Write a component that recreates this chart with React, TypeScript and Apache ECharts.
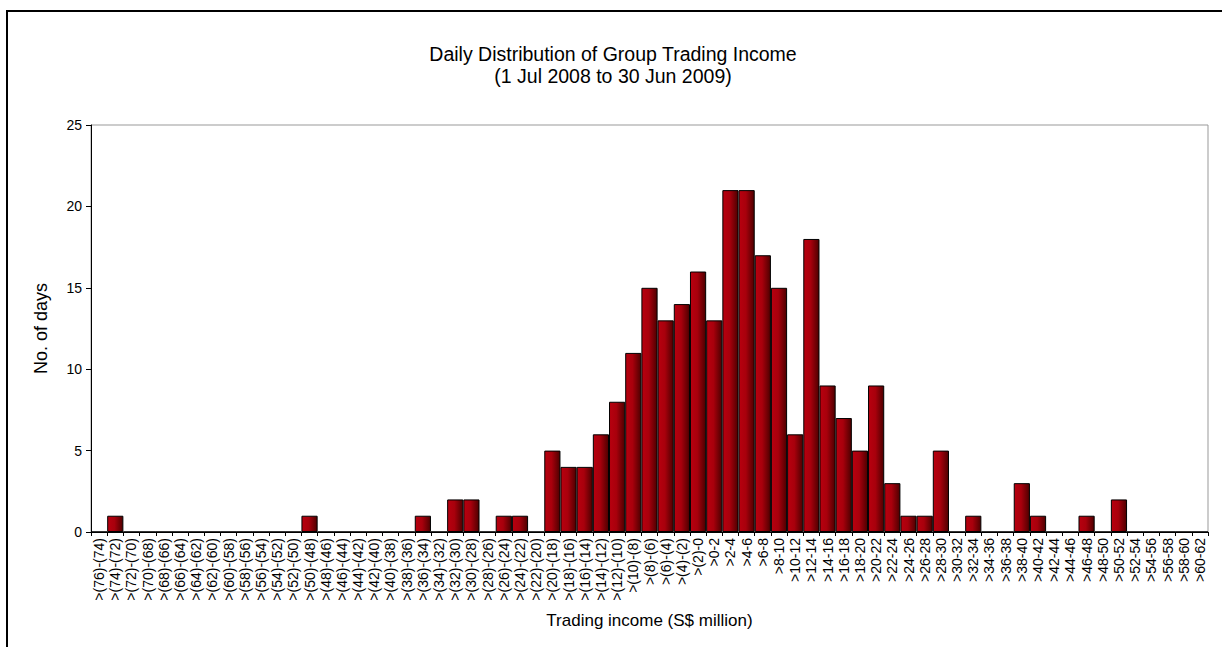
import React, { useEffect, useRef } from "react";
import * as echarts from "echarts";

const negativeBins: string[] = [
  ">(76)-(74)", ">(74)-(72)", ">(72)-(70)", ">(70)-(68)", ">(68)-(66)", ">(66)-(64)",
  ">(64)-(62)", ">(62)-(60)", ">(60)-(58)", ">(58)-(56)", ">(56)-(54)", ">(54)-(52)",
  ">(52)-(50)", ">(50)-(48)", ">(48)-(46)", ">(46)-(44)", ">(44)-(42)", ">(42)-(40)",
  ">(40)-(38)", ">(38)-(36)", ">(36)-(34)", ">(34)-(32)", ">(32)-(30)", ">(30)-(28)",
  ">(28)-(26)", ">(26)-(24)", ">(24)-(22)", ">(22)-(20)", ">(20)-(18)", ">(18)-(16)",
  ">(16)-(14)", ">(14)-(12)", ">(12)-(10)", ">(10)-(8)", ">(8)-(6)", ">(6)-(4)",
  ">(4)-(2)", ">(2)-0",
];
const positiveBins: string[] = [
  ">0-2", ">2-4", ">4-6", ">6-8", ">8-10", ">10-12", ">12-14", ">14-16", ">16-18",
  ">18-20", ">20-22", ">22-24", ">24-26", ">26-28", ">28-30", ">30-32", ">32-34",
  ">34-36", ">36-38", ">38-40", ">40-42", ">42-44", ">44-46", ">46-48", ">48-50",
  ">50-52", ">52-54", ">54-56", ">56-58", ">58-60", ">60-62",
];
const negativeDays: number[] = [
  0, 1, 0, 0, 0, 0,
  0, 0, 0, 0, 0, 0,
  0, 1, 0, 0, 0, 0,
  0, 0, 1, 0, 2, 2,
  0, 1, 1, 0, 5, 4,
  4, 6, 8, 11, 15, 13,
  14, 16,
];
const positiveDays: number[] = [
  13, 21, 21, 17, 15, 6, 18, 9, 7,
  5, 9, 3, 1, 1, 5, 0, 1,
  0, 0, 3, 1, 0, 0, 1, 0,
  2, 0, 0, 0, 0, 0,
];
const categories = [...negativeBins, ...positiveBins];
const days = [...negativeDays, ...positiveDays];
const yTicks = { min: 0, max: 25, interval: 5 };

const titleText = "Daily Distribution of Group Trading Income";
const subtitleText = "(1 Jul 2008 to 30 Jun 2009)";
const xAxisTitle = "Trading income (S$ million)";
const yAxisTitle = "No. of days";

const FONT = "'Liberation Sans', Arial, sans-serif";

export default function App() {
  const ref = useRef<HTMLDivElement>(null);
  useEffect(() => {
    if (!ref.current) return;
    const chart = echarts.init(ref.current, null, { renderer: "svg" });
    chart.setOption({
      animation: false,
      backgroundColor: "#ffffff",
      textStyle: { fontFamily: FONT, color: "#000" },
      title: {
        text: titleText + "\n" + subtitleText,
        left: 608,
        top: 38,
        textAlign: "center",
        textStyle: {
          fontFamily: FONT,
          fontSize: 19.5,
          fontWeight: "normal",
          color: "#000",
          lineHeight: 22,
        },
      },
      graphic: [
        {
          type: "line",
          shape: { x1: 6, y1: 11, x2: 1222, y2: 11 },
          style: { stroke: "#000", lineWidth: 2 },
        },
        {
          type: "line",
          shape: { x1: 7, y1: 10, x2: 7, y2: 647 },
          style: { stroke: "#000", lineWidth: 2 },
        },
      ],
      grid: {
        left: 91,
        right: 14,
        top: 125,
        bottom: 115,
        show: true,
        borderColor: "#999",
        borderWidth: 1,
        backgroundColor: "#fff",
      },
      xAxis: {
        type: "category",
        data: categories,
        name: xAxisTitle,
        nameLocation: "middle",
        nameGap: 80,
        nameTextStyle: { fontFamily: FONT, fontSize: 17, color: "#000" },
        axisLine: { lineStyle: { color: "#000", width: 1 } },
        axisTick: { show: true, interval: 0, length: 4, lineStyle: { color: "#000" } },
        axisLabel: {
          interval: 0,
          rotate: 90,
          fontFamily: FONT,
          fontSize: 14,
          color: "#000",
          margin: 6,
        },
      },
      yAxis: {
        type: "value",
        min: yTicks.min,
        max: yTicks.max,
        interval: yTicks.interval,
        name: yAxisTitle,
        nameLocation: "middle",
        nameGap: 41,
        nameTextStyle: { fontFamily: FONT, fontSize: 18, color: "#000" },
        axisLine: { show: true, lineStyle: { color: "#000", width: 1 } },
        axisTick: { show: true, length: 5, lineStyle: { color: "#000" } },
        axisLabel: { fontFamily: FONT, fontSize: 14, color: "#000", margin: 9 },
        splitLine: { show: false },
      },
      series: [
        {
          type: "bar",
          data: days,
          barCategoryGap: "0%",
          itemStyle: {
            color: new echarts.graphic.LinearGradient(0, 0, 1, 0, [
              { offset: 0, color: "#b8000f" },
              { offset: 0.45, color: "#a8000c" },
              { offset: 1, color: "#4e0000" },
            ]),
            borderColor: "#000",
            borderWidth: 1,
          },
        },
      ],
    });
    return () => chart.dispose();
  }, []);
  return (
    <div
      ref={ref}
      style={{ position: "fixed", left: 0, top: 0, width: 1222, height: 647 }}
    />
  );
}
